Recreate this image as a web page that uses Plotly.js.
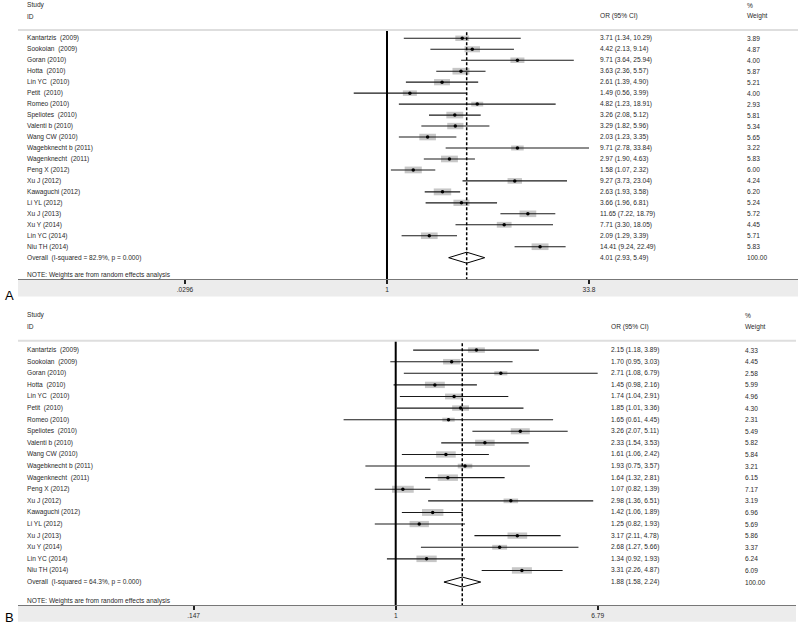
<!DOCTYPE html>
<html>
<head>
<meta charset="utf-8">
<script src="https://cdn.plot.ly/plotly-3.0.1.min.js"></script>
<style>body{margin:0;background:#fff}#plot{width:800px;height:625px}</style>
</head>
<body>
<div id="plot"></div>
<script>
// study labels, same order in both panels
const studies = ['Kantartzis  (2009)', 'Sookoian  (2009)', 'Goran (2010)', 'Hotta  (2010)', 'Lin YC  (2010)',
  'Petit  (2010)', 'Romeo (2010)', 'Speliotes  (2010)', 'Valenti b (2010)', 'Wang CW (2010)',
  'Wagebknecht b (2011)', 'Wagenknecht  (2011)', 'Peng X (2012)', 'Xu J (2012)', 'Kawaguchi (2012)',
  'Li YL (2012)', 'Xu J (2013)', 'Xu Y (2014)', 'Lin YC (2014)', 'Niu TH (2014)'];

// panel A
const orA = [3.71, 4.42, 9.71, 3.63, 2.61, 1.49, 4.82, 3.26, 3.29, 2.03, 9.71, 2.97, 1.58, 9.27, 2.63, 3.66, 11.65, 7.71, 2.09, 14.41];
const loA = [1.34, 2.13, 3.64, 2.36, 1.39, 0.56, 1.23, 2.08, 1.82, 1.23, 2.78, 1.90, 1.07, 3.73, 1.93, 1.96, 7.22, 3.30, 1.29, 9.24];
const hiA = [10.29, 9.14, 25.94, 5.57, 4.90, 3.99, 18.91, 5.12, 5.96, 3.35, 33.84, 4.63, 2.32, 23.04, 3.58, 6.81, 18.79, 18.05, 3.39, 22.49];
const wA = [3.89, 4.87, 4.00, 5.87, 5.21, 4.00, 2.93, 5.81, 5.34, 5.65, 3.22, 5.83, 6.00, 4.24, 6.20, 5.24, 5.72, 4.45, 5.71, 5.83];
const overallA = [4.01, 2.93, 5.49];
const hetA = 'Overall  (I-squared = 82.9%, p = 0.000)';
const ticksA = [0.0296, 1, 33.8];
const tickTextA = ['.0296', '1', '33.8'];

// panel B
const orB = [2.15, 1.70, 2.71, 1.45, 1.74, 1.85, 1.65, 3.26, 2.33, 1.61, 1.93, 1.64, 1.07, 2.98, 1.42, 1.25, 3.17, 2.68, 1.34, 3.31];
const loB = [1.18, 0.95, 1.08, 0.98, 1.04, 1.01, 0.61, 2.07, 1.54, 1.06, 0.75, 1.32, 0.82, 1.36, 1.06, 0.82, 2.11, 1.27, 0.92, 2.26];
const hiB = [3.89, 3.03, 6.79, 2.16, 2.91, 3.36, 4.45, 5.11, 3.53, 2.42, 3.57, 2.81, 1.39, 6.51, 1.89, 1.93, 4.78, 5.66, 1.93, 4.87];
const wB = [4.33, 4.45, 2.58, 5.99, 4.96, 4.30, 2.31, 5.49, 5.82, 5.84, 3.21, 6.15, 7.17, 3.19, 6.96, 5.69, 5.86, 3.37, 6.24, 6.09];
const overallB = [1.88, 1.58, 2.24];
const hetB = 'Overall  (I-squared = 64.3%, p = 0.000)';
const ticksB = [0.147, 1, 6.79];
const tickTextB = ['.147', '1', '6.79'];

const FONT = 'Liberation Sans, Arial, sans-serif';
const TXT = '#2a2a2a';
const X0 = 18 / 800;

function panel(p) {
  const n = studies.length;
  const rows = studies.map((s, i) => i);
  const ovRow = n;
  const ya = p.yaxis, xa = p.xaxis;
  const yref = ya.replace('axis', '');
  const xref = xa.replace('axis', '');
  const traces = [];
  const shapes = [];
  const ann = [];

  // weight boxes: a horizontal line symbol, width = size, height = stroke width
  const bw = p.w.map(wt => p.boxK * Math.sqrt(wt));
  traces.push({
    x: p.or, y: rows, xaxis: xref, yaxis: yref,
    type: 'scatter', mode: 'markers', cliponaxis: false, hoverinfo: 'skip',
    marker: {
      symbol: 'line-ew', size: bw,
      line: { width: bw.map(v => v * p.boxRatio), color: '#b0b0b0' }
    }
  });

  // CI lines + centre dots
  traces.push({
    x: p.or, y: rows, xaxis: xref, yaxis: yref,
    type: 'scatter', mode: 'markers', cliponaxis: false,
    marker: { size: 3.5, color: '#000' },
    error_x: {
      type: 'data', symmetric: false,
      array: p.or.map((v, i) => p.hi[i] - v),
      arrayminus: p.or.map((v, i) => v - p.lo[i]),
      width: 0, thickness: 1.1, color: '#1a1a1a'
    },
    hoverinfo: 'skip'
  });

  // line of no effect
  traces.push({
    x: [1, 1], y: [p.ruleRow, p.bottom], xaxis: xref, yaxis: yref,
    mode: 'lines', line: { color: '#000', width: 2 }, cliponaxis: false
  });

  // overall estimate dashed line
  traces.push({
    x: [p.ov[0], p.ov[0]], y: [p.ruleRow + 0.2, p.bottom], xaxis: xref, yaxis: yref,
    mode: 'lines', line: { color: '#000', width: 1.5, dash: '3px,2px' }, cliponaxis: false
  });

  // overall diamond
  const h = p.diamond;
  traces.push({
    x: [p.ov[1], p.ov[0], p.ov[2], p.ov[0], p.ov[1]],
    y: [ovRow, ovRow - h, ovRow, ovRow + h, ovRow],
    xaxis: xref, yaxis: yref, mode: 'lines', line: { color: '#000', width: 1 }
  });

  // header rule
  shapes.push({
    type: 'line', xref: 'paper', yref: yref, x0: X0, x1: p.right,
    y0: p.ruleRow, y1: p.ruleRow, line: { color: '#dedede', width: 2 }
  });

  // grey band under the axis
  shapes.push({
    type: 'rect', xref: 'paper', yref: 'paper', layer: 'below',
    x0: X0, x1: p.right, y0: p.bandBottom, y1: p.domain[0],
    fillcolor: '#ececec', line: { width: 0 }
  });

  const t = (text, px, row, size) => ann.push({
    text: text, xref: 'paper', yref: yref, x: px / 800, y: row,
    xanchor: 'left', yanchor: 'middle', showarrow: false,
    font: { family: FONT, size: size || 6.6, color: TXT }
  });

  t('Study', 25, -3);
  t('ID', 25, -2);
  t('OR (95% CI)', p.orX, -2);
  t('%', p.wX, -3);
  t('Weight', p.wX, -2);
  studies.forEach((s, i) => {
    t(s, 25, rows[i]);
    t(p.or[i].toFixed(2) + ' (' + p.lo[i].toFixed(2) + ', ' + p.hi[i].toFixed(2) + ')', p.orX, rows[i]);
    t(p.w[i].toFixed(2), p.wX, rows[i]);
  });
  t(p.het, 25, ovRow);
  t(p.ov[0].toFixed(2) + ' (' + p.ov[1].toFixed(2) + ', ' + p.ov[2].toFixed(2) + ')', p.orX, ovRow);
  t('100.00', p.wX, ovRow);
  t('NOTE: Weights are from random effects analysis', 25, 21.6);

  ann.push({
    text: p.label, xref: 'paper', yref: 'paper', x: 3 / 800, y: p.labelY,
    xanchor: 'left', yanchor: 'middle', showarrow: false,
    font: { family: FONT, size: 13, color: '#000' }
  });

  const axes = {};
  axes[xa] = {
    type: 'log', range: p.xrange, domain: [X0, p.right], anchor: yref,
    showgrid: false, zeroline: false, showline: true, linecolor: '#777', linewidth: 1,
    ticks: 'outside', ticklen: 4, tickwidth: 2, tickcolor: '#222',
    tickvals: p.ticks, ticktext: p.tickText,
    tickfont: { family: FONT, size: 6.6, color: TXT }, fixedrange: true
  };
  axes[ya] = {
    range: p.yrange, domain: p.domain, anchor: xref, visible: false, fixedrange: true
  };
  return { traces, shapes, ann, axes };
}

const A = panel({
  xaxis: 'xaxis', yaxis: 'yaxis', or: orA, lo: loA, hi: hiA, w: wA, ov: overallA, het: hetA,
  ticks: ticksA, tickText: tickTextA, xrange: [-2.793, 3.111], right: 798 / 800,
  yrange: [21.97, -3.49], domain: [1 - 279.3 / 625, 1], bandBottom: 1 - 296.5 / 625,
  ruleRow: -0.76, bottom: 21.97, diamond: 0.5, boxK: 5.0, boxRatio: 0.55,
  orX: 598, wX: 745, label: 'A', labelY: 1 - 295 / 625
});

const B = panel({
  xaxis: 'xaxis2', yaxis: 'yaxis2', or: orB, lo: loB, hi: hiB, w: wB, ov: overallB, het: hetB,
  ticks: ticksB, tickText: tickTextB, xrange: [-1.556, 1.649], right: 796 / 800,
  yrange: [21.98, -4.32], domain: [1 - 605 / 625, 1 - 300 / 625], bandBottom: 1 - 621.7 / 625,
  ruleRow: -0.8, bottom: 21.98, diamond: 0.43, boxK: 5.8, boxRatio: 0.45,
  orX: 609, wX: 743, label: 'B', labelY: 1 - 617 / 625
});

const layout = Object.assign({
  width: 800, height: 625,
  margin: { l: 0, r: 0, t: 0, b: 0 },
  paper_bgcolor: '#fff', plot_bgcolor: 'rgba(0,0,0,0)',
  showlegend: false,
  font: { family: FONT, color: TXT },
  shapes: A.shapes.concat(B.shapes),
  annotations: A.ann.concat(B.ann)
}, A.axes, B.axes);

Plotly.newPlot('plot', A.traces.concat(B.traces), layout, { displayModeBar: false, staticPlot: true });
</script>
</body>
</html>
